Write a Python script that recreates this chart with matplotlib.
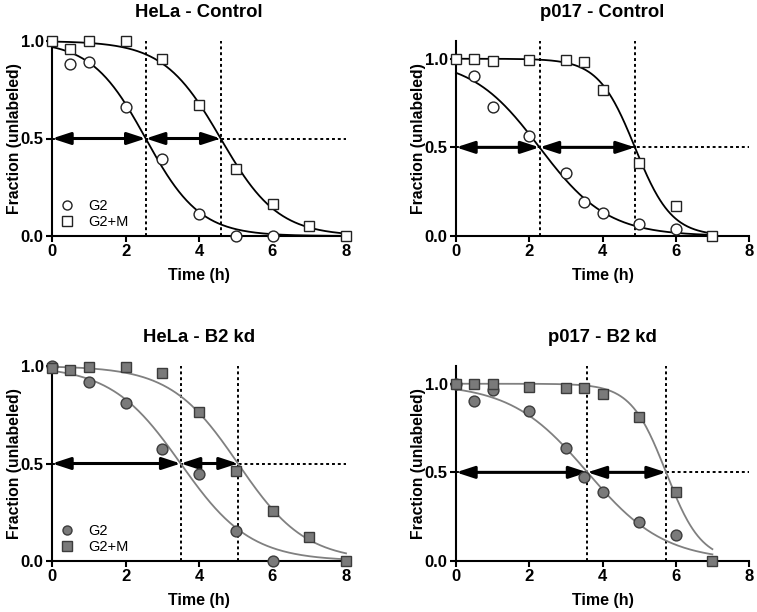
import numpy as np
import matplotlib
matplotlib.use("Agg")
import matplotlib.pyplot as plt

plt.rcParams['font.family'] = ['Liberation Sans', 'DejaVu Sans']

# --- data ---
titres = ["HeLa - Control", "p017 - Control", "HeLa - B2 kd", "p017 - B2 kd"]

t_hela = [0, 0.5, 1, 2, 3, 4, 5, 6, 7, 8]
t_p017 = [0, 0.5, 1, 2, 3, 3.5, 4, 5, 6, 7]

# HeLa - Control
hc_g2_t = [0.5, 1, 2, 3, 4, 5, 6]
hc_g2 = [0.88, 0.89, 0.663, 0.393, 0.113, 0.0, 0.0]
hc_g2m = [1.0, 0.957, 1.0, 1.0, 0.908, 0.672, 0.342, 0.164, 0.053, 0.0]

# p017 - Control
pc_g2_t = [0.5, 1, 2, 3, 3.5, 4, 5, 6]
pc_g2 = [0.90, 0.729, 0.565, 0.354, 0.192, 0.128, 0.068, 0.038]
pc_g2m = [1.0, 1.0, 0.989, 0.994, 0.992, 0.98, 0.821, 0.41, 0.17, 0.0]

# HeLa - B2 kd
hk_g2_t = [0, 1, 2, 3, 4, 5, 6]
hk_g2 = [1.0, 0.918, 0.812, 0.572, 0.444, 0.155, 0.0]
hk_g2m = [0.991, 0.981, 0.997, 0.997, 0.962, 0.765, 0.461, 0.256, 0.125, 0.0]

# p017 - B2 kd
pk_g2_t = [0, 0.5, 1, 2, 3, 3.5, 4, 5, 6]
pk_g2 = [1.0, 0.90, 0.964, 0.847, 0.635, 0.476, 0.388, 0.218, 0.145]
pk_g2m = [0.998, 1.0, 0.998, 0.983, 0.976, 0.976, 0.944, 0.81, 0.392, 0.0]

# parametres des sigmoides ajustees : (x50, pente, fin de courbe)
fit_g2 = [(2.55, 0.74, 8), (2.28, 0.93, 7), (3.50, 0.95, 8), (3.59, 1.05, 7)]
fit_g2m = [(4.59, 0.78, 8), (4.886, 0.50, 7), (5.06, 0.92, 8), (5.735, 0.48, 7)]

points = [
    (hc_g2_t, hc_g2, t_hela, hc_g2m),
    (pc_g2_t, pc_g2, t_p017, pc_g2m),
    (hk_g2_t, hk_g2, t_hela, hk_g2m),
    (pk_g2_t, pk_g2, t_p017, pk_g2m),
]
ytop = [1.0, 1.1, 1.0, 1.1]
legende = [True, False, True, False]
kd = [False, False, True, True]


def sigmoide(x, x50, s):
    return 1.0 / (1.0 + np.exp((x - x50) / s))


fig = plt.figure(figsize=(7.57, 6.12), dpi=100)
positions = [
    [52 / 757, 1 - 236 / 612, 294 / 757, 195 / 612],
    [456 / 757, 1 - 236 / 612, 293 / 757, 195 / 612],
    [52 / 757, 1 - 561 / 612, 294 / 757, 195 / 612],
    [456 / 757, 1 - 561 / 612, 293 / 757, 195 / 612],
]
pointille = (0, (1.5, 1.5))

for i in range(4):
    ax = fig.add_axes(positions[i])
    tg2, yg2, tg2m, yg2m = points[i]

    if kd[i]:
        c_ligne = "#808080"
        face = "#7a7a7a"
        bord = "#3c3c3c"
    else:
        c_ligne = "black"
        face = "white"
        bord = "#222222"

    # courbes ajustees
    for (x50, s, fin) in [fit_g2[i], fit_g2m[i]]:
        xx = np.linspace(0, fin, 300)
        ax.plot(xx, sigmoide(xx, x50, s), color=c_ligne, lw=1.3, zorder=3, clip_on=False)

    # lignes pointillees + fleches
    x1 = fit_g2[i][0]
    x2 = fit_g2m[i][0]
    ax.plot([x1, x1], [0, ytop[i]], color="black", lw=1.4, ls=pointille, zorder=2, clip_on=False)
    ax.plot([x2, x2], [0, ytop[i]], color="black", lw=1.4, ls=pointille, zorder=2, clip_on=False)
    ax.plot([0, 8], [0.5, 0.5], color="black", lw=1.4, ls=pointille, zorder=2, clip_on=False)
    for (a, b) in [(0, x1), (x1, x2)]:
        ax.annotate("", xy=(b, 0.5), xytext=(a, 0.5),
                    arrowprops=dict(arrowstyle="<|-|>,head_length=1.1,head_width=0.36",
                                    color="black", lw=2.2, shrinkA=0, shrinkB=0), zorder=4)

    # points (carres au-dessus des cercles)
    ax.plot(tg2, yg2, ls="none", marker="o", ms=7.8, mfc=face, mec=bord, mew=1.0,
            zorder=5, clip_on=False)
    ax.plot(tg2m, yg2m, ls="none", marker="s", ms=7.8, mfc=face, mec=bord, mew=1.0,
            zorder=6, clip_on=False)

    ax.set_xlim(0, 8)
    ax.set_ylim(0, ytop[i])
    ax.set_xticks([0, 2, 4, 6, 8])
    ax.set_yticks([0, 0.5, 1.0])
    ax.set_yticklabels(["0.0", "0.5", "1.0"])
    for lab in ax.get_xticklabels() + ax.get_yticklabels():
        lab.set_fontweight("bold")
    ax.tick_params(direction="out", length=4, width=1.5, labelsize=12, pad=2)
    ax.spines["top"].set_visible(False)
    ax.spines["right"].set_visible(False)
    ax.spines["left"].set_linewidth(1.5)
    ax.spines["bottom"].set_linewidth(1.5)
    ax.set_xlabel("Time (h)", fontsize=11.5, fontweight="bold", labelpad=6)
    ax.set_ylabel("Fraction (unlabeled)", fontsize=11.3, fontweight="bold", labelpad=-1)
    ax.set_title(titres[i], fontsize=13.3, fontweight="bold", pad=17)

    if legende[i]:
        h1, = ax.plot([], [], ls="none", marker="o", ms=6.5, mfc=face, mec=bord, mew=1.0)
        h2, = ax.plot([], [], ls="none", marker="s", ms=6.5, mfc=face, mec=bord, mew=1.0)
        ax.legend([h1, h2], ["G2", "G2+M"], loc="lower left", bbox_to_anchor=(0.0, 0.0),
                  frameon=False, fontsize=10.5, handletextpad=1.0, labelspacing=0.1,
                  handlelength=1.0, borderaxespad=0.2, borderpad=0.3)

fig.savefig("out.png", dpi=100)
